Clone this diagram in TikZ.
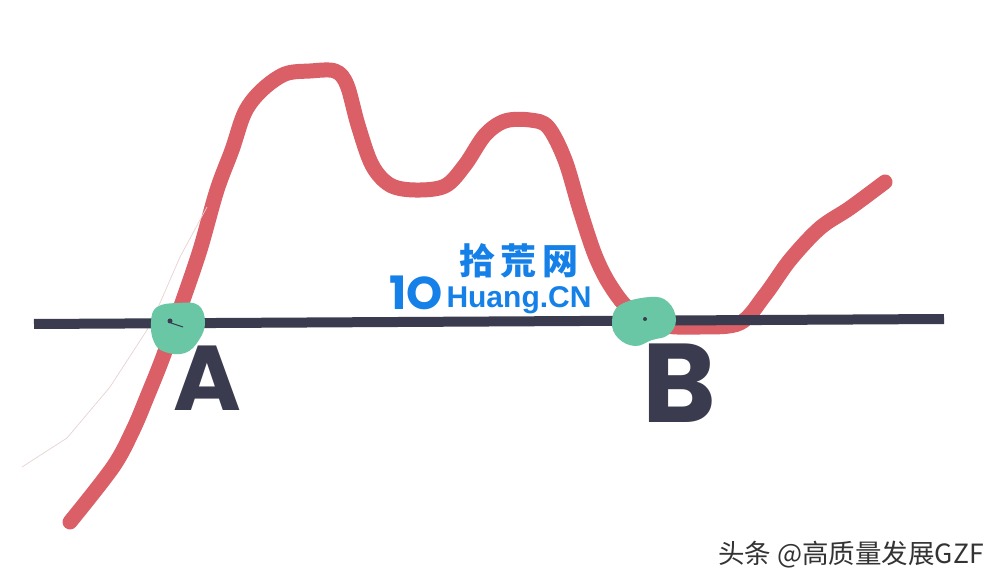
\documentclass[tikz,border=0pt]{standalone}
\usepackage{fontspec}
\setmainfont{Liberation Sans}
\newfontfamily\cjk{Noto Sans CJK SC}
\newfontfamily\letterfont{Poppins}
\definecolor{curvered}{HTML}{DA5F66}
\definecolor{axisdark}{HTML}{3B3B4F}
\definecolor{blobgreen}{HTML}{69C7A5}
\definecolor{logoblue}{HTML}{1480E8}
\definecolor{faint}{HTML}{E8D2D2}
\tikzset{
  curve/.style={draw=curvered,line width=15pt,line cap=round,line join=round},
  axisline/.style={draw=axisdark,line width=10pt},
  blob/.style={fill=blobgreen},
  letter/.style={text=axisdark,inner sep=0pt},
  logo/.style={text=logoblue,inner sep=0pt},
}
\begin{document}
\begin{tikzpicture}[x=1pt,y=-1pt]
\useasboundingbox (0,0) rectangle (1002,585);
\fill[white] (0,0) rectangle (1002,585);
% curve
\draw[curve] plot[smooth,tension=0.55] coordinates {
 (70,522) (113,467) (133,430) (147,397) (163,357) (182,303) (200,250) (217,190) (232,150) (245,112) (262,90) (285,74) (310,71) (335,71) (347,85) (358,125) (372,165) (390,185) (415,190) (445,186) (465,165) (485,135) (505,121) (530,120) (548,127) (565,160) (580,210) (595,255) (610,285) (630,310) (660,325) (700,327) (740,323) (765,295) (790,260) (820,228) (850,208) (885,182)};
% faint pencil trace
\draw[faint,line width=0.7pt] (22,467) -- (67,438) -- (110,387) -- (147,330) -- (160,303) -- (180,257) -- (207,207);
% axis
\draw[axisline] (34,324) -- (944,319);
% blobs
\fill[blob] plot[smooth cycle,tension=0.7] coordinates {(151,322) (157,307) (178,303) (198,305) (205,322) (199,340) (185,353) (165,352) (154,342)};
\fill[blob] plot[smooth cycle,tension=0.7] coordinates {(612,322) (620,305) (650,297) (668,302) (676,320) (668,335) (652,340) (635,346) (618,338)};
\fill[axisdark] (170,321) circle (2.5pt);
\draw[axisdark,line width=1pt] (171,323) -- (183,327);
\fill[axisdark] (645,319) circle (2pt);
% letters
\node[letter,font=\letterfont\bfseries\fontsize{92}{92}\selectfont] (labelA) at (207,378) {A};
\node[letter,font=\letterfont\bfseries\fontsize{112}{112}\selectfont] (labelB) at (679,383) {B};
% logo
\node[logo,font=\cjk\bfseries\fontsize{36}{36}\selectfont] (logocn) at (519,261) {拾\,荒\,网};
\node[logo,font=\letterfont\bfseries\fontsize{46}{46}\selectfont] (logoten) at (416,293) {1O};
\node[logo,font=\bfseries\fontsize{30}{30}\selectfont] (logoen) at (519,300) {Huang.CN};
% credit
\node[inner sep=0pt,text=black!80,font=\cjk\fontsize{26.5}{26.5}\selectfont] (credit) at (851,555) {头条 @高质量发展GZF};
\end{tikzpicture}
\end{document}
